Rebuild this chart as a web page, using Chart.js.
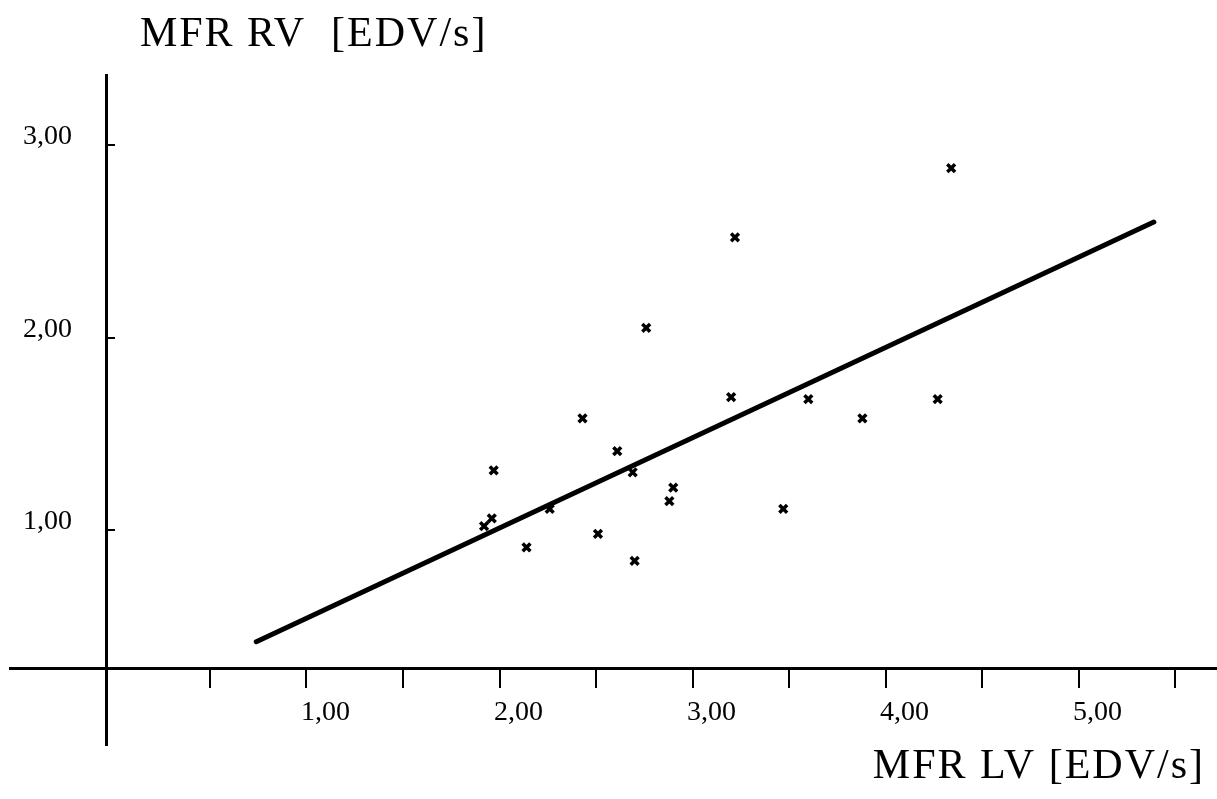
<!DOCTYPE html>
<html>
<head>
<meta charset="utf-8">
<script src="https://cdn.jsdelivr.net/npm/chart.js@4.4.1/dist/chart.umd.min.js"></script>
<style>
  html, body { margin: 0; padding: 0; background: #fff; }
  #wrap { width: 1217px; height: 799px; position: relative; }
</style>
</head>
<body>
<div id="wrap"><canvas id="chart"></canvas></div>
<script>
// MFR LV (x) vs MFR RV (y), one value pair per patient
const mfrLV = [4.34, 3.22, 2.76, 2.43, 3.20, 3.60, 3.88, 4.27, 2.61, 1.97,
               2.69, 2.90, 2.88, 1.96, 1.92, 2.26, 2.51, 2.14, 2.70, 3.47];
const mfrRV = [2.88, 2.52, 2.05, 1.58, 1.69, 1.68, 1.58, 1.68, 1.41, 1.31,
               1.30, 1.22, 1.15, 1.06, 1.02, 1.11, 0.98, 0.91, 0.84, 1.11];

// regression line, end points
const fitLV = [0.74, 5.39];
const fitRV = [0.42, 2.60];

const xTickValues = [0.5, 1, 1.5, 2, 2.5, 3, 3.5, 4, 4.5, 5, 5.5];
const yTickValues = [1, 2, 3];

const xTitle = 'MFR LV [EDV/s]';
const yTitle = 'MFR RV  [EDV/s]';

// where the two axes cross, and where the y labels end
const X_AXIS_AT = 0.283;
const Y_AXIS_AT = -0.034;
const Y_LABELS_AT = -0.215;

const SERIF = '"Liberation Serif", "Times New Roman", serif';
const fmt = v => v.toFixed(2).replace('.', ',');
const noPadding = s => { s.paddingLeft = s.paddingRight = s.paddingTop = s.paddingBottom = 0; };

const axisCaptions = {
    id: 'axisCaptions',
    afterDraw(chart) {
        const { ctx, chartArea, scales } = chart;
        ctx.save();
        ctx.fillStyle = '#000';
        ctx.font = '42px ' + SERIF;
        ctx.letterSpacing = '2px';
        ctx.textBaseline = 'alphabetic';
        ctx.textAlign = 'left';
        ctx.fillText(yTitle, scales.x.getPixelForValue(Y_AXIS_AT) + 33, chartArea.top - 29);
        ctx.textAlign = 'right';
        ctx.fillText(xTitle, chart.width - 12, chart.height - 21);
        ctx.restore();
    },
};

new Chart(document.getElementById('chart'), {
    type: 'scatter',
    data: {
        datasets: [
            {
                data: mfrLV.map((x, i) => ({ x, y: mfrRV[i] })),
                pointStyle: 'crossRot',
                pointRadius: 5.5,
                borderColor: '#000',
                borderWidth: 3.5,
            },
            {
                type: 'line',
                data: fitLV.map((x, i) => ({ x, y: fitRV[i] })),
                borderColor: '#000',
                borderWidth: 5,
                borderCapStyle: 'round',
                pointRadius: 0,
            },
        ],
    },
    options: {
        responsive: true,
        maintainAspectRatio: false,
        animation: false,
        layout: { autoPadding: false, padding: { left: 10, right: 1, top: 75, bottom: 54 } },
        plugins: { legend: { display: false }, tooltip: { enabled: false } },
        scales: {
            x: {
                type: 'linear',
                min: -0.536,
                max: 5.712,
                position: { y: X_AXIS_AT },
                afterBuildTicks: s => { s.ticks = xTickValues.map(value => ({ value })); },
                afterFit: noPadding,
                ticks: {
                    color: '#000',
                    font: { family: SERIF, size: 28 },
                    padding: 10,
                    labelOffset: 19,
                    maxRotation: 0,
                    autoSkip: false,
                    callback: v => (Number.isInteger(v) ? fmt(v) : ''),
                },
                grid: { drawOnChartArea: false, color: '#000', lineWidth: 2, tickLength: 18 },
                border: { color: '#000', width: 3 },
            },
            y: {
                type: 'linear',
                min: -0.117,
                max: 3.364,
                position: { x: Y_AXIS_AT },
                afterBuildTicks: s => { s.ticks = yTickValues.map(value => ({ value })); },
                afterFit: noPadding,
                ticks: { display: false },
                grid: { drawOnChartArea: false, color: '#000', lineWidth: 2, tickLength: -10 },
                border: { color: '#000', width: 3 },
            },
            // carries the y tick labels, set off to the left of the axis line
            yLabels: {
                type: 'linear',
                axis: 'y',
                min: -0.117,
                max: 3.364,
                position: { x: Y_LABELS_AT },
                afterBuildTicks: s => { s.ticks = yTickValues.map(value => ({ value })); },
                afterFit: noPadding,
                ticks: {
                    color: '#000',
                    font: { family: SERIF, size: 28 },
                    labelOffset: -8,
                    autoSkip: false,
                    callback: v => fmt(v),
                },
                grid: { display: false },
                border: { display: false },
            },
        },
    },
    plugins: [axisCaptions],
});
</script>
</body>
</html>
